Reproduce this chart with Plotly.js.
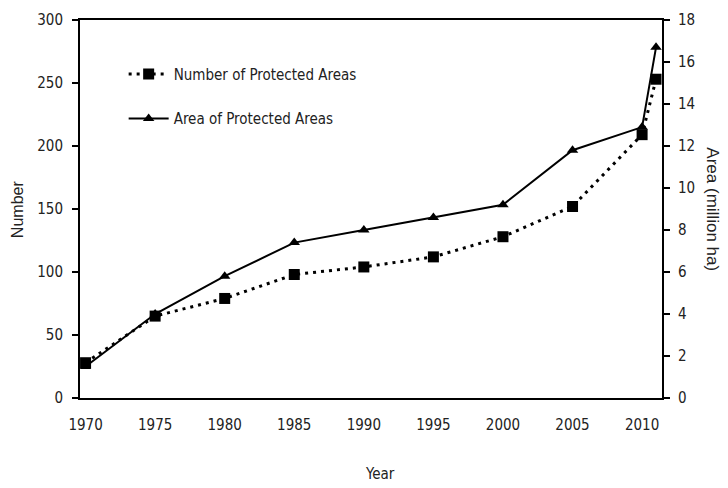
<!DOCTYPE html>
<html>
<head>
<meta charset="utf-8">
<script src="https://cdn.plot.ly/plotly-3.0.1.min.js"></script>
<style>html,body{margin:0;padding:0;background:#fff;}#chart{width:728px;height:488px;}</style>
</head>
<body>
<div id="chart"></div>
<script>
const years = [1970, 1975, 1980, 1985, 1990, 1995, 2000, 2005, 2010, 2011];
const numberOfPAs = [28, 65, 79, 98, 104, 112, 128, 152, 209, 253];
const areaOfPAs = [1.5, 4.0, 5.8, 7.4, 8.0, 8.6, 9.2, 11.8, 12.9, 16.7];
const xTicks = [1970, 1975, 1980, 1985, 1990, 1995, 2000, 2005, 2010];
const seriesNames = ["Number of Protected Areas", "Area of Protected Areas"];

const tickFont = {family: "DejaVu Sans Condensed, Liberation Sans Narrow, sans-serif", size: 15, color: "#222"};

const traces = [
  {
    x: years, y: numberOfPAs, name: seriesNames[0], yaxis: "y", type: "scatter",
    mode: "lines+markers", legendgroup: "a",
    line: {color: "#000", width: 3, dash: "3px,5px"},
    marker: {symbol: "square", size: 11, color: "#000"}
  },
  {
    x: years, y: areaOfPAs, name: seriesNames[1], yaxis: "y2", type: "scatter",
    mode: "lines+markers", legendgroup: "b",
    line: {color: "#000", width: 2},
    marker: {symbol: "triangle-up", size: 10, color: "#000"}
  }
];

const layout = {
  width: 728, height: 488,
  margin: {l: 80, r: 66, t: 20, b: 90},
  paper_bgcolor: "#fff", plot_bgcolor: "#fff",
  showlegend: true,
  legend: {
    x: 0.075, y: 0.9, xanchor: "left", yanchor: "top",
    bgcolor: "rgba(0,0,0,0)", font: tickFont,
    tracegroupgap: 22, itemwidth: 40
  },
  xaxis: {
    range: [1969.6, 2011.43], tickvals: xTicks, ticks: "",
    showgrid: false, zeroline: false, showline: true, linecolor: "#000", linewidth: 2,
    mirror: true, tickfont: tickFont, ticklabelstandoff: 12
  },
  yaxis: {
    range: [0, 300], dtick: 50, ticks: "outside", ticklen: 6, tickcolor: "#000", tickwidth: 2,
    showgrid: false, zeroline: false, showline: true, linecolor: "#000", linewidth: 2,
    tickfont: tickFont, ticklabelstandoff: 6
  },
  yaxis2: {
    range: [0, 18], dtick: 2, ticks: "outside", ticklen: 6, tickcolor: "#000", tickwidth: 2,
    overlaying: "y", side: "right",
    showgrid: false, zeroline: false, showline: true, linecolor: "#000", linewidth: 2,
    tickfont: tickFont, ticklabelstandoff: 5
  },
  annotations: [
    {text: "Number", xref: "paper", yref: "paper", x: -0.108, y: 0.5, xanchor: "center", yanchor: "middle",
     textangle: -90, showarrow: false, font: {family: "Liberation Sans, Arial, sans-serif", size: 16, color: "#222"}},
    {text: "Area (million ha)", xref: "paper", yref: "paper", x: 1.087, y: 0.5, xanchor: "center", yanchor: "middle",
     textangle: 90, showarrow: false, font: {family: "Liberation Sans, Arial, sans-serif", size: 17, color: "#222"}},
    {text: "Year", xref: "paper", yref: "paper", x: 0.516, y: -0.2, xanchor: "center", yanchor: "middle",
     showarrow: false, font: tickFont}
  ]
};

Plotly.newPlot("chart", traces, layout, {displayModeBar: false, staticPlot: true});
</script>
</body>
</html>
